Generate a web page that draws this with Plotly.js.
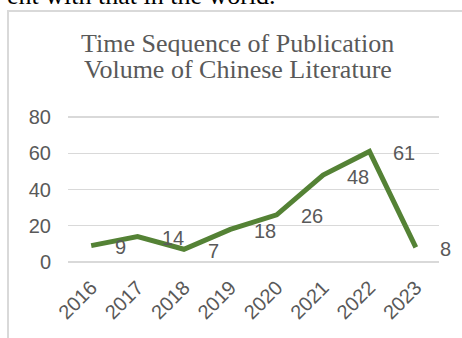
<!DOCTYPE html>
<html>
<head>
<meta charset="utf-8">
<script src="https://cdn.plot.ly/plotly-3.0.1.min.js"></script>
<style>
  html, body { margin: 0; padding: 0; background: #fff; }
  #chart { width: 462px; height: 338px; }
</style>
</head>
<body>
<div id="chart"></div>
<script>
// Annual publication counts of Chinese literature
const years = ['2016', '2017', '2018', '2019', '2020', '2021', '2022', '2023'];
const counts = [9, 14, 7, 18, 26, 48, 61, 8];
const yTicks = [0, 20, 40, 60, 80];
const titleLines = ['Time Sequence of Publication', 'Volume of Chinese Literature'];

const W = 462, H = 338;
const margin = { l: 68, r: 23, t: 116, b: 75 };
const plotW = W - margin.l - margin.r;
const plotH = H - margin.t - margin.b;
// pixel -> paper coordinate helpers for decorations around the plot
const px = x => (x - margin.l) / plotW;
const py = y => (H - margin.b - y) / plotH;

const gray = '#595959';
const sans = 'Liberation Sans, Arial, sans-serif';
const serif = 'Liberation Serif, Times New Roman, serif';

const trace = {
  type: 'scatter',
  mode: 'lines',
  x: years,
  y: counts,
  line: { color: '#548235', width: 5, shape: 'linear' },
  hoverinfo: 'skip',
  cliponaxis: false
};

// value labels sit to the right of each point (category axis -> serial index)
const valueLabels = years.map((yr, i) => ({
  x: i, y: counts[i], xref: 'x', yref: 'y',
  text: String(counts[i]),
  showarrow: false,
  xanchor: 'left', yanchor: 'middle',
  xshift: 22, yshift: -1.5,
  font: { family: sans, size: 20, color: gray }
}));

// two-line chart heading, set with tight line spacing
const heading = titleLines.map((line, i) => ({
  xref: 'paper', yref: 'paper',
  x: px(237.5), y: py(43 + i * 26),
  xanchor: 'center', yanchor: 'middle',
  height: 26,
  text: line,
  showarrow: false,
  font: { family: serif, size: 26, color: gray }
}));

// tail end of the preceding paragraph in the document, mostly above the page edge
const docText = {
  xref: 'paper', yref: 'paper',
  x: px(278), y: py(16),
  xanchor: 'right', yanchor: 'bottom',
  yshift: 4,
  text: 'ent with that in the world.',
  showarrow: false,
  font: { family: serif, size: 26, color: '#000' }
};

const layout = {
  width: W, height: H,
  margin: margin,
  paper_bgcolor: '#fff',
  plot_bgcolor: '#fff',
  showlegend: false,
  xaxis: {
    type: 'category',
    categoryorder: 'array',
    categoryarray: years,
    range: [-0.5, years.length - 0.5],
    showgrid: false,
    zeroline: false,
    showline: false,
    ticks: '',
    tickangle: -45,
    ticklabelstandoff: 8,
    tickfont: { family: sans, size: 20, color: gray },
    fixedrange: true
  },
  yaxis: {
    // padded a hair past 0 and 80 so the end gridlines are kept
    range: [-0.6, 80.6],
    tickmode: 'array',
    tickvals: yTicks,
    ticktext: yTicks.map(String),
    showgrid: true,
    gridcolor: '#d9d9d9',
    gridwidth: 1.5,
    zeroline: false,
    showline: false,
    ticks: '',
    ticklabelstandoff: 16,
    tickfont: { family: sans, size: 20, color: gray },
    fixedrange: true
  },
  shapes: [
    {
      // chart frame
      type: 'rect', xref: 'paper', yref: 'paper',
      x0: px(8), x1: px(480), y0: py(11), y1: py(360),
      line: { color: '#d9d9d9', width: 2 },
      fillcolor: 'rgba(0,0,0,0)',
      layer: 'below'
    }
  ],
  annotations: valueLabels.concat(heading, [docText])
};

Plotly.newPlot('chart', [trace], layout, { staticPlot: true, displayModeBar: false });
</script>
</body>
</html>
